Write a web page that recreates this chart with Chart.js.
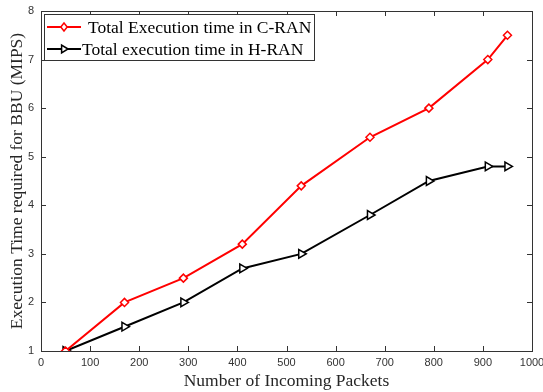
<!DOCTYPE html>
<html><head><meta charset="utf-8">
<script src="https://cdn.jsdelivr.net/npm/chart.js@4/dist/chart.umd.min.js"></script>
<style>html,body{margin:0;padding:0;background:#fff}#wrap{width:543px;height:392px}</style>
</head><body><div id="wrap"><canvas id="c" width="543" height="392"></canvas></div>
<script>
const packets = [50, 170, 290, 410, 530, 670, 790, 910, 950];
const cranTime = [1, 2, 2.5, 3.2, 4.4, 5.4, 6, 7, 7.5];
const hranTime = [1, 1.5, 2, 2.7, 3, 3.8, 4.5, 4.8, 4.8];
const xTicks = [0,100,200,300,400,500,600,700,800,900,1000];
const yTicks = [1,2,3,4,5,6,7,8];
const seriesLabels = ['Total Execution time in C-RAN', 'Total execution time in H-RAN'];
const xTitle = 'Number of Incoming Packets';
const yTitle = 'Execution Time required for BBU (MIPS)';

const AX = '#333333';
const tickFont = {family: 'Liberation Sans, Arial, sans-serif', size: 11};
const serif = 'Liberation Serif, Times New Roman, serif';

const boxPlugin = {
  id: 'box',
  afterDatasetsDraw(chart) {
    const ctx = chart.ctx, a = chart.chartArea;
    const xs = chart.scales.x, ys = chart.scales.y;
    ctx.save();
    ctx.strokeStyle = AX; ctx.lineWidth = 1;
    ctx.beginPath();
    xTicks.forEach(v => {
      const p = Math.round(xs.getPixelForValue(v)) + 0.5;
      ctx.moveTo(p, a.bottom); ctx.lineTo(p, a.bottom - 5);
      ctx.moveTo(p, a.top); ctx.lineTo(p, a.top + 5);
    });
    yTicks.forEach(v => {
      const p = Math.round(ys.getPixelForValue(v)) + 0.5;
      ctx.moveTo(a.left, p); ctx.lineTo(a.left + 5, p);
      ctx.moveTo(a.right, p); ctx.lineTo(a.right - 5, p);
    });
    ctx.stroke();
    ctx.strokeRect(Math.round(a.left) + 0.5, Math.round(a.top) + 0.5, Math.round(a.right - a.left), Math.round(a.bottom - a.top));
    // legend
    const lx = Math.round(a.left) + 3, ly = Math.round(a.top) + 3, lw = 270, lh = 46;
    ctx.fillStyle = '#fff';
    ctx.fillRect(lx, ly, lw, lh);
    ctx.strokeRect(lx + 0.5, ly + 0.5, lw, lh);
    const textX = [88, 82];
    chart.data.datasets.forEach((ds, i) => {
      const y = ly + 13 + i * 22;
      ctx.strokeStyle = ds.borderColor; ctx.lineWidth = 2;
      ctx.beginPath(); ctx.moveTo(lx + 3, y); ctx.lineTo(lx + 37, y); ctx.stroke();
      ctx.lineWidth = 1.5;
      ctx.beginPath();
      const cx = lx + 20, r = 4;
      if (i === 0) {
        ctx.moveTo(cx, y - r); ctx.lineTo(cx + r * 0.8, y); ctx.lineTo(cx, y + r); ctx.lineTo(cx - r * 0.8, y); ctx.closePath();
      } else {
        ctx.moveTo(cx + r, y); ctx.lineTo(cx - r * 0.6, y - r); ctx.lineTo(cx - r * 0.6, y + r); ctx.closePath();
      }
      ctx.fillStyle = '#fff'; ctx.fill(); ctx.stroke();
      ctx.fillStyle = '#000';
      ctx.font = '17.5px ' + serif;
      ctx.textBaseline = 'middle'; ctx.textAlign = 'left';
      ctx.fillText(ds.label, textX[i], y + 1);
    });
    ctx.restore();
  }
};

new Chart(document.getElementById('c'), {
  type: 'line',
  data: {
    datasets: [
      {label: seriesLabels[0], data: packets.map((x, i) => ({x, y: cranTime[i]})),
       borderColor: '#ff0000', backgroundColor: '#fff', borderWidth: 2,
       pointStyle: 'rectRot', pointRadius: 4, pointBorderWidth: 1.5, pointBorderColor: '#ff0000', pointBackgroundColor: '#fff', tension: 0},
      {label: seriesLabels[1], data: packets.map((x, i) => ({x, y: hranTime[i]})),
       borderColor: '#000000', backgroundColor: '#fff', borderWidth: 2,
       pointStyle: 'triangle', rotation: 90, pointRadius: 5, pointBorderWidth: 1.5, pointBorderColor: '#000', pointBackgroundColor: '#fff', tension: 0}
    ]
  },
  options: {
    responsive: false, animation: false,
    layout: {padding: {left: 0, right: 11, top: 11, bottom: 0}},
    plugins: {legend: {display: false}, tooltip: {enabled: false}},
    scales: {
      x: {type: 'linear', min: 0, max: 1000,
        afterBuildTicks: s => { s.ticks = xTicks.map(v => ({value: v})); },
        afterFit: s => { s.height = 41; s.paddingLeft = 0; s.paddingRight = 0; },
        grid: {display: false, drawTicks: false}, border: {display: false},
        ticks: {font: tickFont, color: '#333333', padding: 5, maxRotation: 0, autoSkip: false, callback: v => String(v)},
        title: {display: true, text: xTitle, font: {family: serif, size: 17.5}, color: '#262626', padding: 0}
      },
      y: {type: 'linear', min: 1, max: 8,
        afterBuildTicks: s => { s.ticks = yTicks.map(v => ({value: v})); },
        afterFit: s => { s.width = 41; s.paddingTop = 0; s.paddingBottom = 0; },
        grid: {display: false, drawTicks: false}, border: {display: false},
        ticks: {font: tickFont, color: '#333333', padding: 7, autoSkip: false, callback: v => String(v)},
        title: {display: true, text: yTitle, font: {family: serif, size: 17.5}, color: '#262626', padding: {top: 7, bottom: 0}}
      }
    }
  },
  plugins: [boxPlugin]
});
</script></body></html>
